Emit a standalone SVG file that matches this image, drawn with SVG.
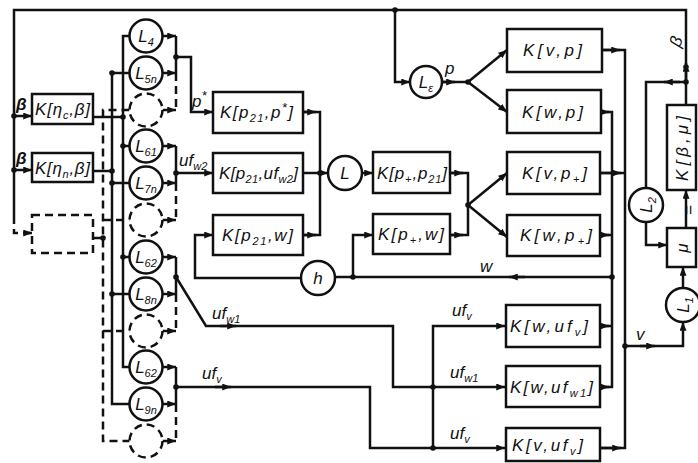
<svg xmlns="http://www.w3.org/2000/svg" width="698" height="463" viewBox="0 0 698 463">
<defs>
<marker id="a" viewBox="0 0 10 8" refX="10" refY="4" markerWidth="9" markerHeight="7" markerUnits="userSpaceOnUse" orient="auto"><path d="M0,0 L10,4 L0,8 z" fill="#111"/></marker>
<style>
.bx{fill:#fff;stroke:#111;stroke-width:2.5}
.bd{fill:#fff;stroke:#111;stroke-width:2.5;stroke-dasharray:8 5}
.ln{fill:none;stroke:#111;stroke-width:2.5}
.ds{fill:none;stroke:#111;stroke-width:2.5;stroke-dasharray:8 5}
.ar{fill:none;stroke:#111;stroke-width:2.5;marker-end:url(#a)}
.dt{fill:#111}
.t{font-family:"Liberation Sans",Arial,sans-serif;font-style:italic;font-size:17px;fill:#111}
.s{font-size:11px}
</style>
</defs>
<rect width="698" height="463" fill="#fff"/>
<g id="connectors">
<path class="ln" d="M686,105 L686,10 L14,10 L14,216"/>
<path class="ds" d="M14,216 L14,233 L30,233"/>
<path class="ar" d="M24,233 L32,233"/>
<path class="ar" d="M686,80 L686,63"/>
<path class="ar" d="M14,116 L32,116"/>
<path class="ar" d="M14,170 L32,170"/>
<path class="ln" d="M93,117 L123,117"/>
<path class="ln" d="M93,171 L112,171"/>
<path class="ds" d="M93,238 L103,238"/>
<path class="ln" d="M129.5,36 L123,36 L123,367 L129.5,367 M123,146 L129.5,146 M123,257 L129.5,257"/>
<path class="ln" d="M129.5,73 L112,73 L112,404 L129.5,404 M112,183 L129.5,183 M112,294 L129.5,294"/>
<path class="ds" d="M129.5,110 L103,110 L103,441 L129.5,441 M103,220 L129.5,220 M103,331 L129.5,331"/>
<path class="ar" d="M162.5,36 L176,36"/><path class="ar" d="M162.5,73 L176,73"/><path class="ar" d="M162.5,110 L176,110"/>
<path class="ar" d="M162.5,146 L176,146"/><path class="ar" d="M162.5,183 L176,183"/><path class="ar" d="M162.5,220 L176,220"/>
<path class="ar" d="M162.5,257 L176,257"/><path class="ar" d="M162.5,294 L176,294"/><path class="ar" d="M162.5,331 L176,331"/>
<path class="ar" d="M162.5,367 L176,367"/><path class="ar" d="M162.5,404 L176,404"/><path class="ar" d="M162.5,441 L176,441"/>
<path class="ln" d="M176,36 L176,73 M176,146 L176,183 M176,257 L176,294 M176,367 L176,404"/>
<path class="ds" d="M176,73 L176,110 M176,183 L176,220 M176,294 L176,331 M176,404 L176,441"/>
<path class="ar" d="M176,57 L191,57 L191,112 L213,112"/>
<path class="ar" d="M176,173 L213,173"/>
<path class="ar" d="M176,277 L206,326 L393,326 L393,387 L505,387"/>
<path class="ar" d="M220,326 L236,326"/>
<path class="ar" d="M176,387 L370,387 L370,448 L505,448"/>
<path class="ar" d="M215,387 L231,387"/>
<path class="ar" d="M433,448 L433,326 L505,326"/>
<path class="ln" d="M303,112 L320,112 L320,235 L303,235"/>
<path class="ar" d="M303,112 L316,112"/><path class="ar" d="M303,235 L316,235"/>
<path class="ar" d="M303,173 L328,173"/>
<path class="ar" d="M362,173 L373,173"/>
<path class="ln" d="M450,173 L468,173 L468,235 L450,235"/>
<path class="ar" d="M450,173 L463,173"/><path class="ar" d="M450,235 L463,235"/>
<path class="ar" d="M468,205 L507,173"/><path class="ar" d="M468,205 L507,237"/>
<path class="ar" d="M301,278 L195,278 L195,235 L213,235"/>
<path class="ln" d="M612,277 L335,277"/>
<path class="ar" d="M525,277 L509,277"/>
<path class="ar" d="M353,277 L353,235 L373,235"/>
<path class="ar" d="M395,10 L395,82 L410,82"/>
<path class="ln" d="M442,82 L468,82"/>
<path class="ar" d="M442,82 L455,82"/>
<path class="ar" d="M468,82 L507,50"/><path class="ar" d="M468,82 L507,112"/>
<path class="ln" d="M602,50 L625,50 L625,448 L600,448"/>
<path class="ln" d="M601,112 L612,112 L612,387 L600,387"/>
<path class="ln" d="M600,173 L625,173 M600,235 L612,235 M600,326 L612,326"/>
<path class="ar" d="M602,50 L620,50"/><path class="ar" d="M601,112 L609,112"/><path class="ar" d="M600,173 L621,173"/>
<path class="ar" d="M600,235 L609,235"/><path class="ar" d="M600,326 L609,326"/><path class="ar" d="M600,387 L609,387"/>
<path class="ar" d="M600,448 L621,448"/>
<path class="ar" d="M625,346 L683,346 L683,322"/>
<path class="ar" d="M640,346 L655,346"/>
<path class="ar" d="M683,288 L683,267"/>
<path class="ar" d="M686,228 L686,190"/>
<path class="ln" d="M686,82 L646,82 L646,188"/>
<path class="ar" d="M680,82 L664,82"/>
<path class="ar" d="M646,222 L646,245 L667,245"/>
<g class="dt">
<circle cx="14" cy="116" r="2.8"/><circle cx="14" cy="170" r="2.8"/>
<circle cx="123" cy="117" r="2.8"/><circle cx="112" cy="171" r="2.8"/><circle cx="103" cy="238" r="2.8"/>
<circle cx="123" cy="146" r="2.8"/><circle cx="123" cy="257" r="2.8"/>
<circle cx="112" cy="73" r="2.8"/><circle cx="112" cy="183" r="2.8"/><circle cx="112" cy="294" r="2.8"/>
<circle cx="176" cy="57" r="2.8"/><circle cx="176" cy="173" r="2.8"/><circle cx="176" cy="277" r="2.8"/><circle cx="176" cy="387" r="2.8"/>
<circle cx="433" cy="387" r="2.8"/><circle cx="433" cy="448" r="2.8"/>
<circle cx="320" cy="173" r="2.8"/><circle cx="468" cy="205" r="2.8"/><circle cx="468" cy="82" r="2.8"/>
<circle cx="353" cy="277" r="2.8"/><circle cx="612" cy="277" r="2.8"/><circle cx="395" cy="10" r="2.8"/>
<circle cx="625" cy="346" r="2.8"/><circle cx="686" cy="82" r="2.8"/><circle cx="686" cy="67" r="2.8"/>
</g>
<text class="t" x="16" y="110" font-weight="bold">β</text>
<text class="t" x="16" y="164" font-weight="bold">β</text>
<text class="t" x="192" y="107">p<tspan font-size="13" dy="-7">*</tspan></text>
<text class="t" x="179" y="166">uf<tspan class="s" dy="4">w2</tspan></text>
<text class="t" x="212" y="319">uf<tspan class="s" dy="4">w1</tspan></text>
<text class="t" x="202" y="379">uf<tspan class="s" dy="4">v</tspan></text>
<text class="t" x="480" y="272">w</text>
<text class="t" x="452" y="316">uf<tspan class="s" dy="4">v</tspan></text>
<text class="t" x="450" y="378">uf<tspan class="s" dy="4">w1</tspan></text>
<text class="t" x="450" y="439">uf<tspan class="s" dy="4">v</tspan></text>
<text class="t" x="445" y="74">p</text>
<text class="t" x="636" y="340">v</text>
<text class="t" x="674" y="52" transform="rotate(-70 674 46)">β</text>
<text class="t" x="690" y="214" font-size="13" text-anchor="middle" transform="rotate(-90 690 210)">=</text>
</g>
<g id="n-kcb"><rect class="bx" x="32" y="94" width="61" height="30"/><text class="t" x="35" y="115" textLength="55" lengthAdjust="spacing">K[η<tspan class="s" dy="4">c</tspan><tspan dy="-4">,β]</tspan></text></g>
<g id="n-knb"><rect class="bx" x="32" y="153" width="61" height="29"/><text class="t" x="35" y="174" textLength="55" lengthAdjust="spacing">K[η<tspan class="s" dy="4">n</tspan><tspan dy="-4">,β]</tspan></text></g>
<g id="n-dbox"><rect class="bd" x="32" y="215" width="61" height="38"/></g>
<g id="n-L4"><circle class="bx" cx="146" cy="36" r="16.5"/><text class="t" x="146" y="42" text-anchor="middle">L<tspan class="s" dy="4">4</tspan></text></g>
<g id="n-L5n"><circle class="bx" cx="146" cy="73" r="16.5"/><text class="t" x="146" y="79" text-anchor="middle">L<tspan class="s" dy="4">5n</tspan></text></g>
<g id="n-d1"><circle class="bd" cx="146" cy="110" r="16.5"/></g>
<g id="n-L61"><circle class="bx" cx="146" cy="146" r="16.5"/><text class="t" x="146" y="152" text-anchor="middle">L<tspan class="s" dy="4">61</tspan></text></g>
<g id="n-L7n"><circle class="bx" cx="146" cy="183" r="16.5"/><text class="t" x="146" y="189" text-anchor="middle">L<tspan class="s" dy="4">7n</tspan></text></g>
<g id="n-d2"><circle class="bd" cx="146" cy="220" r="16.5"/></g>
<g id="n-L62a"><circle class="bx" cx="146" cy="257" r="16.5"/><text class="t" x="146" y="263" text-anchor="middle">L<tspan class="s" dy="4">62</tspan></text></g>
<g id="n-L8n"><circle class="bx" cx="146" cy="294" r="16.5"/><text class="t" x="146" y="300" text-anchor="middle">L<tspan class="s" dy="4">8n</tspan></text></g>
<g id="n-d3"><circle class="bd" cx="146" cy="331" r="16.5"/></g>
<g id="n-L62b"><circle class="bx" cx="146" cy="367" r="16.5"/><text class="t" x="146" y="373" text-anchor="middle">L<tspan class="s" dy="4">62</tspan></text></g>
<g id="n-L9n"><circle class="bx" cx="146" cy="404" r="16.5"/><text class="t" x="146" y="410" text-anchor="middle">L<tspan class="s" dy="4">9n</tspan></text></g>
<g id="n-d4"><circle class="bd" cx="146" cy="441" r="16.5"/></g>
<g id="n-p21ps"><rect class="bx" x="213" y="92" width="90" height="41"/><text class="t" x="220" y="118" textLength="73" lengthAdjust="spacing">K[p<tspan class="s" dy="4">21</tspan><tspan dy="-4">,p</tspan><tspan font-size="13" dy="-6">*</tspan><tspan dy="6">]</tspan></text></g>
<g id="n-p21uf"><rect class="bx" x="213" y="153" width="90" height="40"/><text class="t" x="219" y="179" textLength="79" lengthAdjust="spacing">K[p<tspan class="s" dy="4">21</tspan><tspan dy="-4">,uf</tspan><tspan class="s" dy="4">w2</tspan><tspan dy="-4">]</tspan></text></g>
<g id="n-p21w"><rect class="bx" x="213" y="215" width="90" height="40"/><text class="t" x="222" y="241" textLength="71" lengthAdjust="spacing">K[p<tspan class="s" dy="4">21</tspan><tspan dy="-4">,w]</tspan></text></g>
<g id="n-L"><circle class="bx" cx="345" cy="173" r="17"/><text class="t" x="345" y="179" text-anchor="middle">L</text></g>
<g id="n-h"><circle class="bx" cx="318" cy="278" r="17"/><text class="t" x="318" y="284" text-anchor="middle">h</text></g>
<g id="n-ppp21"><rect class="bx" x="373" y="152" width="77" height="41"/><text class="t" x="377" y="179" textLength="70" lengthAdjust="spacing">K[p<tspan class="s" dy="4">+</tspan><tspan dy="-4">,p</tspan><tspan class="s" dy="4">21</tspan><tspan dy="-4">]</tspan></text></g>
<g id="n-ppw"><rect class="bx" x="373" y="214" width="77" height="40"/><text class="t" x="378" y="240" textLength="66" lengthAdjust="spacing">K[p<tspan class="s" dy="4">+</tspan><tspan dy="-4">,w]</tspan></text></g>
<g id="n-Le"><circle class="bx" cx="426" cy="82" r="16"/><text class="t" x="426" y="88" text-anchor="middle">L<tspan class="s" dy="4">ε</tspan></text></g>
<g id="n-vp"><rect class="bx" x="507" y="29" width="95" height="43"/><text class="t" x="523" y="56" textLength="59" lengthAdjust="spacing">K[v,p]</text></g>
<g id="n-wp"><rect class="bx" x="507" y="90" width="94" height="43"/><text class="t" x="522" y="118" textLength="61" lengthAdjust="spacing">K[w,p]</text></g>
<g id="n-vpp"><rect class="bx" x="507" y="152" width="93" height="42"/><text class="t" x="522" y="179" textLength="65" lengthAdjust="spacing">K[v,p<tspan class="s" dy="4">+</tspan><tspan dy="-4">]</tspan></text></g>
<g id="n-wpp"><rect class="bx" x="507" y="215" width="93" height="41"/><text class="t" x="520" y="241" textLength="72" lengthAdjust="spacing">K[w,p<tspan class="s" dy="4">+</tspan><tspan dy="-4">]</tspan></text></g>
<g id="n-wufv"><rect class="bx" x="506" y="305" width="94" height="42"/><text class="t" x="510" y="332" textLength="78" lengthAdjust="spacing">K[w,uf<tspan class="s" dy="4">v</tspan><tspan dy="-4">]</tspan></text></g>
<g id="n-wufw1"><rect class="bx" x="506" y="366" width="94" height="41"/><text class="t" x="510" y="393" textLength="83" lengthAdjust="spacing">K[w,uf<tspan class="s" dy="4">w1</tspan><tspan dy="-4">]</tspan></text></g>
<g id="n-vufv"><rect class="bx" x="506" y="428" width="94" height="33"/><text class="t" x="512" y="451" textLength="71" lengthAdjust="spacing">K[v,uf<tspan class="s" dy="4">v</tspan><tspan dy="-4">]</tspan></text></g>
<g id="n-kbm"><rect class="bx" x="667" y="105" width="29" height="85"/><text class="t" x="649" y="154" textLength="65" lengthAdjust="spacing" transform="rotate(-90 682 148)">K[β,μ]</text></g>
<g id="n-mu"><rect class="bx" x="667" y="228" width="29" height="39"/><text class="t" x="682" y="254" text-anchor="middle" transform="rotate(-90 682 248)">μ</text></g>
<g id="n-L2"><circle class="bx" cx="646" cy="205" r="17"/><text class="t" x="646" y="211" text-anchor="middle" transform="rotate(-90 646 205)">L<tspan class="s" dy="4">2</tspan></text></g>
<g id="n-L1"><circle class="bx" cx="683" cy="305" r="17"/><text class="t" x="683" y="311" text-anchor="middle" transform="rotate(-90 683 305)">L<tspan class="s" dy="4">1</tspan></text></g>
</svg>
